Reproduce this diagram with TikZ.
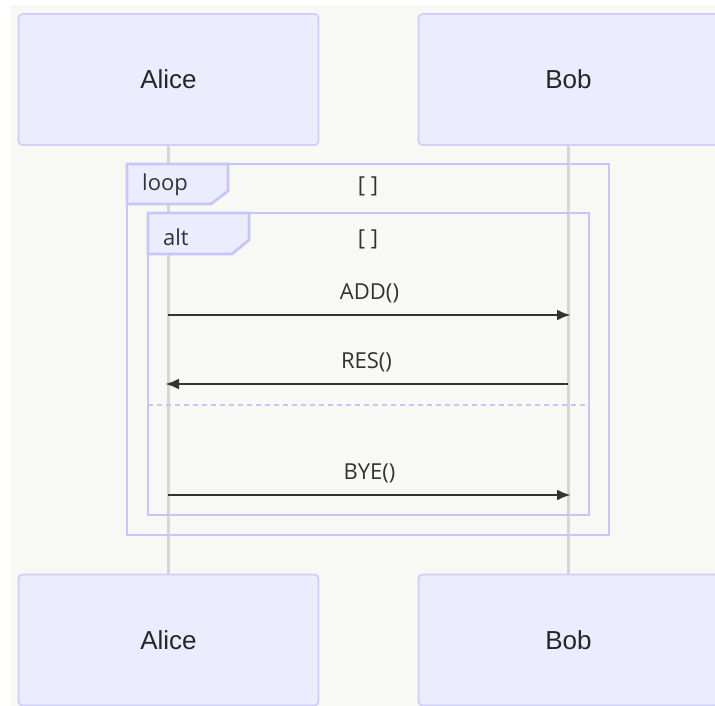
\documentclass[tikz,border=0pt]{standalone}
\usepackage{fontspec}
\setmainfont{Open Sans}
\newfontfamily\actorfont{Liberation Sans}
\usepackage{tikz}
\usetikzlibrary{arrows.meta}

\definecolor{bgcol}{HTML}{F8F8F4}
\definecolor{actorfill}{HTML}{ECECFF}
\definecolor{actordraw}{HTML}{CFCFFA}
\definecolor{framecol}{HTML}{C6C6FB}
\definecolor{lifecol}{HTML}{D6D6D6}
\definecolor{msgcol}{HTML}{333333}

\tikzset{
  actor/.style={draw=actordraw,fill=actorfill,line width=1.8pt,rounded corners=4pt,
    minimum width=300pt,minimum height=131pt,inner sep=0pt,
    font=\actorfont\fontsize{26}{30}\selectfont,text=black!85},
  lifeline/.style={draw=lifecol,line width=2.4pt},
  frame/.style={draw=framecol,line width=2.8pt},
  tab/.style={draw=framecol,fill=actorfill,line width=2.8pt},
  msg/.style={draw=msgcol,line width=2.8pt,-{Latex[length=14pt,width=11pt]}},
  msglabel/.style={font=\fontsize{22}{26}\selectfont,text=msgcol,inner sep=0pt},
}

\begin{document}
\begin{tikzpicture}[x=1pt,y=-1pt,>=Latex]
  \useasboundingbox (0,0) rectangle (715,706);
  \fill[bgcol] (10,5) rectangle (715,706);
  % participants, top and bottom
  \node[actor] (aliceTop) at (168.5,79.5) {Alice};
  \node[actor] (bobTop)   at (568.5,79.5) {Bob};
  \node[actor] (aliceBot) at (168.5,640) {Alice};
  \node[actor] (bobBot)   at (568.5,640) {Bob};
  \draw[lifeline] (aliceTop) -- (aliceBot);
  \draw[lifeline] (bobTop) -- (bobBot);
  % loop frame
  \draw[frame] (127,164) rectangle (609,535);
  \draw[tab] (127,164) -- (228,164) -- (228,191) -- (211,204) -- (127,204) -- cycle;
  \node[msglabel,anchor=west] (loopLbl) at (142,185) {loop};
  \node[msglabel] (loopCond) at (368,186) {[ ]};
  % alt frame
  \draw[frame] (148,213) rectangle (589,515);
  \draw[tab] (148,213) -- (249,213) -- (249,240) -- (232,254) -- (148,254) -- cycle;
  \node[msglabel,anchor=west] (altLbl) at (163,237) {alt};
  \node[msglabel] (altCond) at (368,239) {[ ]};
  \draw[frame,dash pattern=on 5pt off 4pt] (148,405) -- (589,405);
  % messages
  \coordinate (a1) at (168,315);
  \coordinate (b1) at (571,315);
  \coordinate (a2) at (165,384);
  \coordinate (b2) at (568,384);
  \coordinate (a3) at (168,495);
  \coordinate (b3) at (571,495);
  \draw[msg] (a1) -- (b1) node[msglabel,midway,yshift=22pt] (addLbl) {ADD()};
  \draw[msg] (b2) -- (a2) node[msglabel,midway,yshift=22pt] (resLbl) {RES()};
  \draw[msg] (a3) -- (b3) node[msglabel,midway,yshift=22pt] (byeLbl) {BYE()};
\end{tikzpicture}
\end{document}
